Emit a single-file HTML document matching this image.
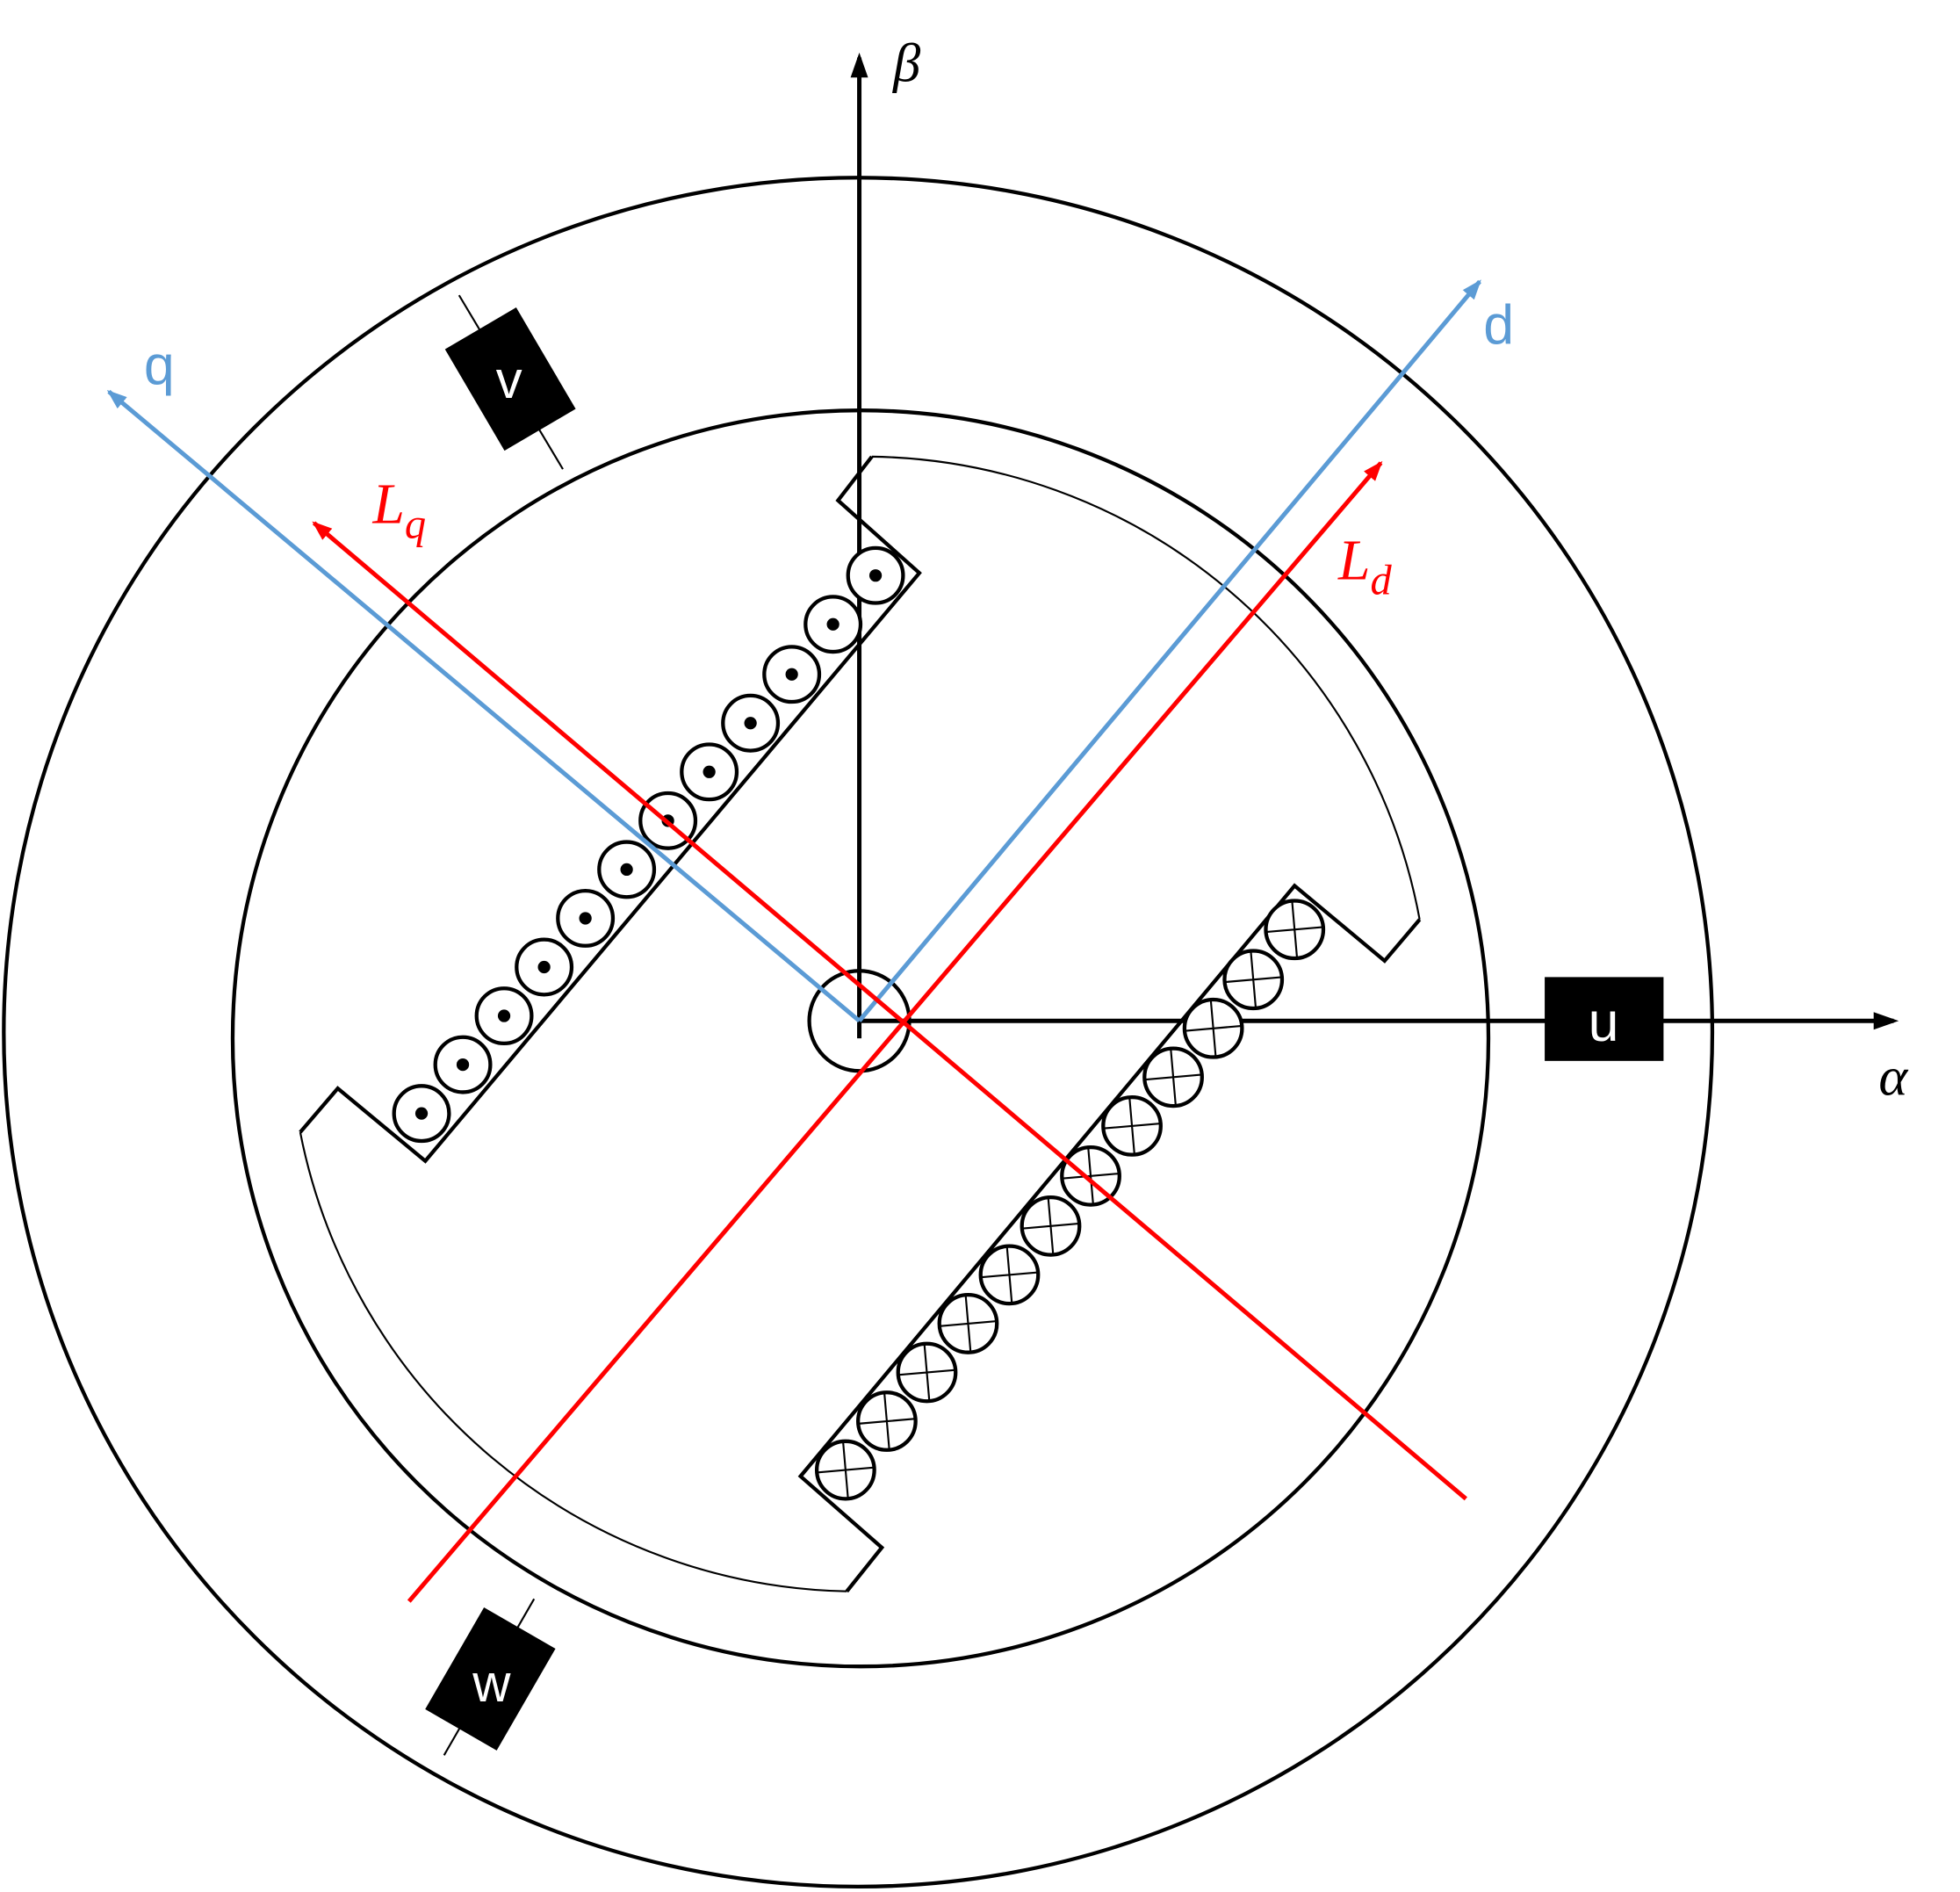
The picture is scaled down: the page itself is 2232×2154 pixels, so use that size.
<!DOCTYPE html>
<html><head><meta charset="utf-8"><style>
html,body{margin:0;padding:0;background:#fff;}
svg{display:block;}
</style></head><body>
<svg width="2232" height="2154" viewBox="0 0 1567 1512.3" xmlns="http://www.w3.org/2000/svg">
<defs>
<marker id="ab" markerWidth="20" markerHeight="20" refX="14" refY="8" orient="auto" markerUnits="userSpaceOnUse"><path d="M0,2 L16,8 L0,14 z" fill="#5b9bd5"/></marker>
<marker id="ar" markerWidth="20" markerHeight="20" refX="14" refY="8" orient="auto" markerUnits="userSpaceOnUse"><path d="M0,2 L16,8 L0,14 z" fill="#ff0000"/></marker>
<marker id="kk" markerWidth="24" markerHeight="24" refX="16" refY="10" orient="auto" markerUnits="userSpaceOnUse"><path d="M0,3 L20,10 L0,17 z" fill="#000"/></marker>
</defs>
<circle cx="686" cy="825" r="683" fill="none" stroke="#000" stroke-width="3"/>
<circle cx="688" cy="830" r="502" fill="none" stroke="#000" stroke-width="3"/>
<g fill="none" stroke="#000">
<path d="M697,365 A452,452 0 0 1 1135,735" stroke-width="1.5"/>
<path d="M240,905 A455,455 0 0 0 677,1272" stroke-width="1.5"/>
<polyline points="697,365 670,400 735,458 340,928 270,870 240,905" stroke-width="3"/>
<polyline points="677,1272 705,1237 640,1180 1035,708 1107,768 1135,735" stroke-width="3"/>
</g>
<line x1="687" y1="830" x2="687" y2="46" stroke="#000" stroke-width="3.5" marker-end="url(#kk)"/>
<line x1="687" y1="816" x2="1514" y2="816" stroke="#000" stroke-width="3.5" marker-end="url(#kk)"/>
<circle cx="687" cy="816" r="40" fill="none" stroke="#000" stroke-width="3"/>
<rect x="1235" y="781" width="95" height="67" fill="#000"/>
<text x="1282" y="832" font-family="Liberation Sans, sans-serif" font-size="44" fill="#fff" text-anchor="middle">u</text>
<g fill="#fff" stroke="#000" stroke-width="3">
<circle cx="700" cy="460" r="22"/><circle cx="666" cy="499" r="22"/><circle cx="633" cy="539" r="22"/><circle cx="600" cy="578" r="22"/><circle cx="567" cy="617" r="22"/><circle cx="534" cy="656" r="22"/><circle cx="501" cy="695" r="22"/><circle cx="468" cy="734" r="22"/><circle cx="435" cy="773" r="22"/><circle cx="403" cy="812" r="22"/><circle cx="370" cy="851" r="22"/><circle cx="337" cy="890" r="22"/>
</g>
<g fill="#000">
<circle cx="700" cy="460" r="5"/><circle cx="666" cy="499" r="5"/><circle cx="633" cy="539" r="5"/><circle cx="600" cy="578" r="5"/><circle cx="567" cy="617" r="5"/><circle cx="534" cy="656" r="5"/><circle cx="501" cy="695" r="5"/><circle cx="468" cy="734" r="5"/><circle cx="435" cy="773" r="5"/><circle cx="403" cy="812" r="5"/><circle cx="370" cy="851" r="5"/><circle cx="337" cy="890" r="5"/>
</g>
<g fill="#fff" stroke="#000" stroke-width="3">
<circle cx="1035" cy="743" r="23"/><circle cx="1002" cy="783" r="23"/><circle cx="970" cy="822" r="23"/><circle cx="938" cy="861" r="23"/><circle cx="905" cy="900" r="23"/><circle cx="872" cy="940" r="23"/><circle cx="840" cy="980" r="23"/><circle cx="807" cy="1019" r="23"/><circle cx="774" cy="1058" r="23"/><circle cx="741" cy="1097" r="23"/><circle cx="709" cy="1136" r="23"/><circle cx="676" cy="1175" r="23"/>
</g>
<g stroke="#000" stroke-width="1.5">
<path transform="translate(1035,743)" d="M-23,2 L23,-2 M-2,-23 L2,23"/>
<path transform="translate(1002,783)" d="M-23,2 L23,-2 M-2,-23 L2,23"/>
<path transform="translate(970,822)" d="M-23,2 L23,-2 M-2,-23 L2,23"/>
<path transform="translate(938,861)" d="M-23,2 L23,-2 M-2,-23 L2,23"/>
<path transform="translate(905,900)" d="M-23,2 L23,-2 M-2,-23 L2,23"/>
<path transform="translate(872,940)" d="M-23,2 L23,-2 M-2,-23 L2,23"/>
<path transform="translate(840,980)" d="M-23,2 L23,-2 M-2,-23 L2,23"/>
<path transform="translate(807,1019)" d="M-23,2 L23,-2 M-2,-23 L2,23"/>
<path transform="translate(774,1058)" d="M-23,2 L23,-2 M-2,-23 L2,23"/>
<path transform="translate(741,1097)" d="M-23,2 L23,-2 M-2,-23 L2,23"/>
<path transform="translate(709,1136)" d="M-23,2 L23,-2 M-2,-23 L2,23"/>
<path transform="translate(676,1175)" d="M-23,2 L23,-2 M-2,-23 L2,23"/>
</g>
<line x1="687" y1="816" x2="1183" y2="225" stroke="#5b9bd5" stroke-width="3.5" marker-end="url(#ab)"/>
<line x1="687" y1="816" x2="87" y2="313" stroke="#5b9bd5" stroke-width="3.5" marker-end="url(#ab)"/>
<line x1="327" y1="1280" x2="1104" y2="370" stroke="#ff0000" stroke-width="3.5" marker-end="url(#ar)"/>
<line x1="1172" y1="1198" x2="251" y2="418" stroke="#ff0000" stroke-width="3.5" marker-end="url(#ar)"/>
<line x1="367" y1="236" x2="450" y2="375" stroke="#000" stroke-width="1.5"/>
<g transform="translate(408,303) rotate(59.6)"><rect x="-47" y="-33" width="94" height="66" fill="#000"/></g>
<text x="407" y="318" font-family="Liberation Sans, sans-serif" font-size="42" fill="#fff" text-anchor="middle">v</text>
<line x1="427" y1="1278" x2="355" y2="1403" stroke="#000" stroke-width="1.5"/>
<g transform="translate(392,1342) rotate(120)"><rect x="-47" y="-33" width="94" height="66" fill="#000"/></g>
<text x="393" y="1360" font-family="Liberation Sans, sans-serif" font-size="42" fill="#fff" text-anchor="middle">w</text>
<text x="714" y="65" font-family="Liberation Serif, serif" font-style="italic" font-size="44">β</text>
<text x="1502" y="875" font-family="Liberation Serif, serif" font-style="italic" font-size="44">α</text>
<text x="1186" y="275" font-family="Liberation Sans, sans-serif" font-size="44" fill="#5b9bd5">d</text>
<text x="115" y="307" font-family="Liberation Sans, sans-serif" font-size="44" fill="#5b9bd5">q</text>
<text x="298" y="418" font-family="Liberation Serif, serif" font-style="italic" font-size="46" fill="#ff0000">L<tspan font-size="34" dy="12">q</tspan></text>
<text x="1070" y="463" font-family="Liberation Serif, serif" font-style="italic" font-size="46" fill="#ff0000">L<tspan font-size="34" dy="12">d</tspan></text>
</svg>
</body></html>
